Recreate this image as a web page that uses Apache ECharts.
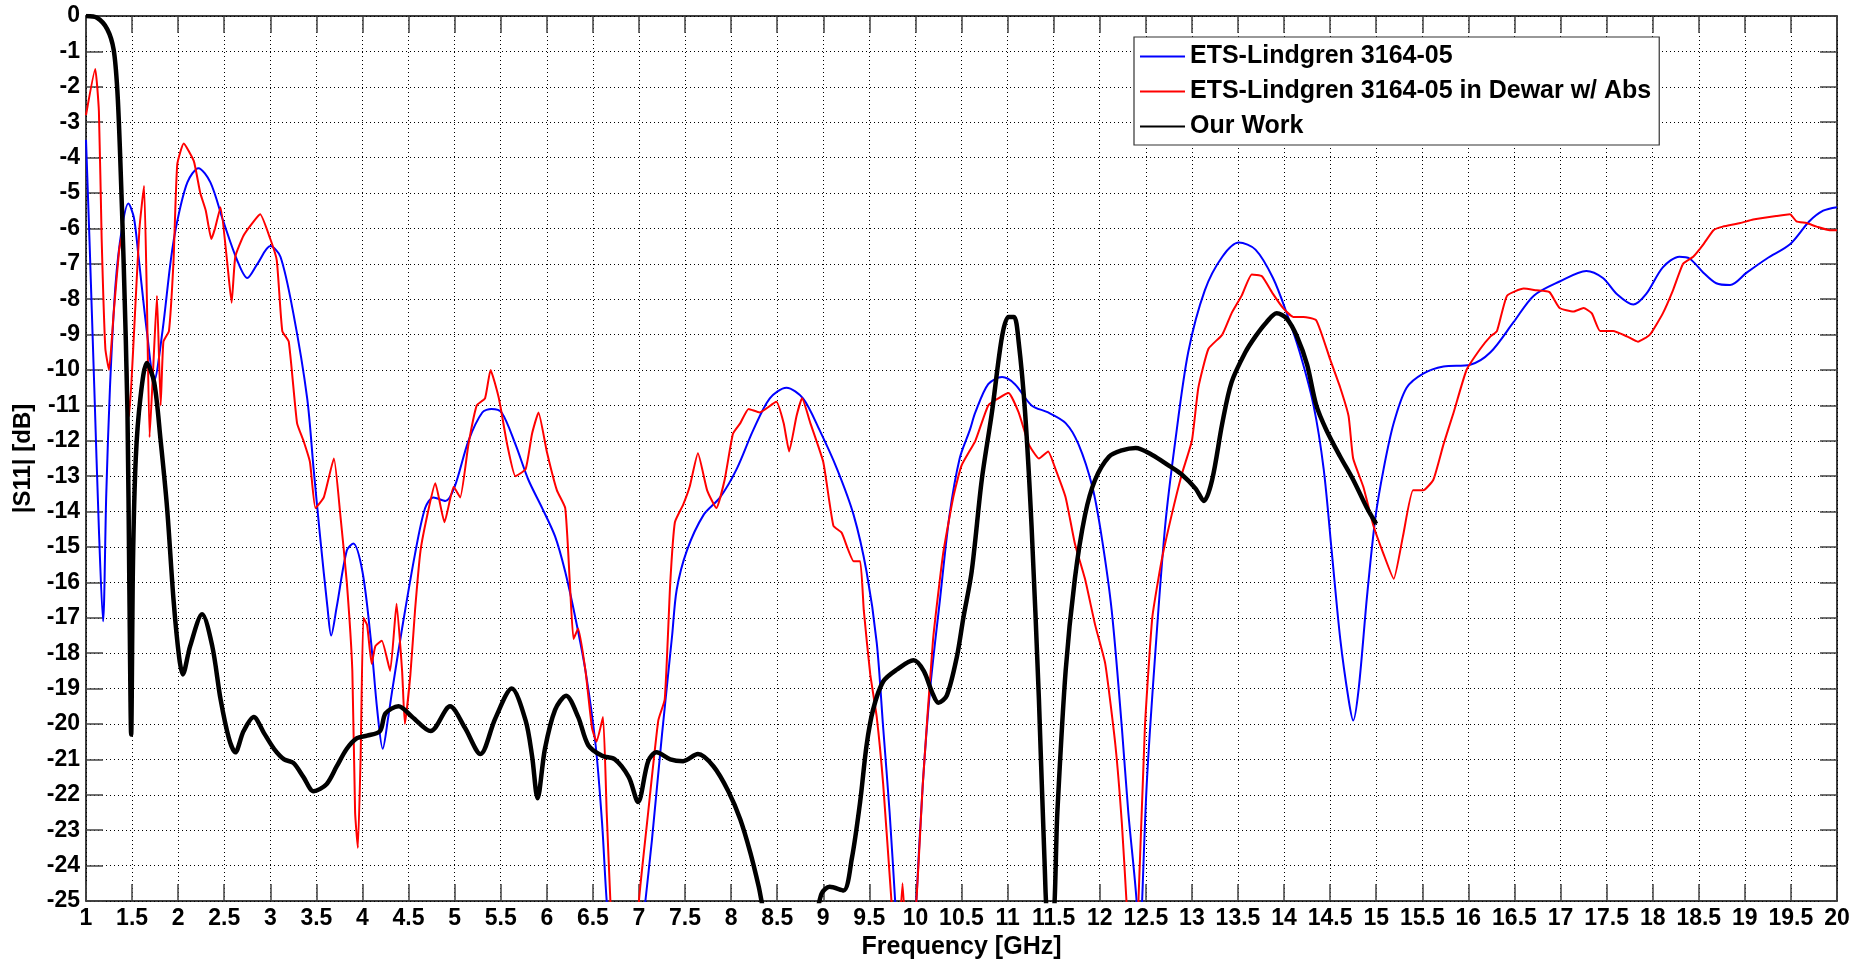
<!DOCTYPE html>
<html>
<head>
<meta charset="utf-8">
<script src="https://cdn.jsdelivr.net/npm/echarts@6/dist/echarts.min.js"></script>
<style>
html,body{margin:0;padding:0;background:#fff;}
#chart{width:1862px;height:965px;}
</style>
</head>
<body>
<div id="chart"></div>
<script>
// ---------- data ----------
const seriesNames = ['ETS-Lindgren 3164-05', 'ETS-Lindgren 3164-05 in Dewar w/ Abs', 'Our Work'];

const blueFreq = [1.0,1.04,1.09,1.14,1.185,1.22,1.26,1.32,1.39,1.46,1.52,1.57,1.66,1.74,1.83,1.92,1.99,2.1,2.22,2.35,2.49,2.64,2.75,2.86,3.0,3.11,3.25,3.4,3.47,3.54,3.62,3.66,3.72,3.83,3.9,4.0,4.09,4.16,4.22,4.28,4.32,4.43,4.57,4.68,4.77,4.9,5.0,5.15,5.3,5.4,5.51,5.66,5.8,5.95,6.09,6.2,6.31,6.42,6.53,6.6,6.65,6.75,6.95,7.07,7.14,7.25,7.36,7.41,7.52,7.7,7.88,8.06,8.24,8.42,8.6,8.78,8.96,9.15,9.33,9.47,9.58,9.65,9.72,9.78,9.85,9.95,10.01,10.08,10.16,10.27,10.37,10.48,10.59,10.65,10.79,10.94,11.08,11.26,11.44,11.63,11.77,11.92,12.02,12.13,12.24,12.31,12.4,12.43,12.46,12.51,12.6,12.71,12.82,12.96,13.14,13.33,13.51,13.69,13.88,14.03,14.17,14.32,14.43,14.52,14.61,14.7,14.75,14.81,14.9,14.99,15.08,15.19,15.33,15.51,15.73,16.02,16.24,16.49,16.71,16.99,17.28,17.46,17.61,17.79,17.93,18.11,18.29,18.4,18.55,18.69,18.84,19.02,19.24,19.49,19.7,19.85,20.0];
const blueDb = [-3.5,-6.5,-10.5,-14.5,-17.1,-13.5,-10.5,-7.6,-6.0,-5.3,-5.7,-6.8,-8.9,-10.3,-8.9,-6.9,-5.8,-4.7,-4.3,-4.7,-5.8,-6.9,-7.4,-7.0,-6.5,-6.8,-8.4,-10.8,-12.8,-14.7,-16.7,-17.5,-16.7,-15.1,-14.9,-15.7,-17.6,-19.6,-20.7,-19.8,-19.1,-17.3,-15.2,-13.9,-13.6,-13.7,-13.3,-12.0,-11.2,-11.1,-11.2,-12.1,-13.1,-13.9,-14.7,-15.7,-17.0,-18.5,-20.6,-22.8,-25.0,-28,-28,-25,-23.3,-20.3,-17.5,-16.2,-15.1,-14.1,-13.6,-12.8,-11.7,-10.8,-10.5,-10.8,-11.7,-12.8,-14.1,-15.7,-17.7,-20.1,-22.5,-25,-28,-28,-25,-21.7,-19.0,-16.4,-14.1,-12.5,-11.7,-11.2,-10.4,-10.2,-10.4,-11.0,-11.2,-11.5,-12.1,-13.3,-14.7,-16.8,-20.1,-22.5,-25,-27,-25,-21.7,-18.1,-14.4,-12.0,-9.5,-7.75,-6.8,-6.4,-6.6,-7.4,-8.4,-9.5,-11.0,-12.8,-15.2,-17.6,-19.3,-19.9,-19.0,-16.4,-14.2,-12.8,-11.5,-10.5,-10.1,-9.9,-9.85,-9.5,-8.65,-7.9,-7.5,-7.2,-7.4,-7.85,-8.15,-7.85,-7.1,-6.8,-6.85,-7.25,-7.55,-7.6,-7.25,-6.85,-6.45,-5.8,-5.5,-5.4];

const redFreq = [1.0,1.1,1.14,1.17,1.21,1.25,1.3,1.36,1.39,1.47,1.52,1.58,1.63,1.66,1.69,1.73,1.77,1.81,1.84,1.9,1.95,1.99,2.06,2.17,2.24,2.3,2.36,2.4,2.46,2.53,2.58,2.62,2.71,2.82,2.89,3.0,3.07,3.13,3.2,3.29,3.36,3.43,3.49,3.58,3.69,3.76,3.83,3.89,3.92,3.95,3.98,4.01,4.05,4.1,4.14,4.21,4.3,4.37,4.43,4.46,4.52,4.57,4.63,4.72,4.79,4.89,4.99,5.06,5.15,5.24,5.33,5.39,5.48,5.57,5.66,5.77,5.84,5.91,6.0,6.11,6.2,6.25,6.29,6.34,6.42,6.49,6.54,6.61,6.65,6.69,6.75,6.95,7.0,7.1,7.21,7.28,7.34,7.39,7.48,7.55,7.64,7.74,7.84,7.93,8.02,8.1,8.19,8.31,8.49,8.57,8.63,8.71,8.77,8.86,9.0,9.11,9.2,9.33,9.4,9.44,9.51,9.58,9.65,9.74,9.8,9.86,9.92,10.01,10.08,10.19,10.3,10.41,10.5,10.65,10.79,10.9,11.01,11.12,11.23,11.34,11.44,11.52,11.63,11.73,11.84,11.95,12.06,12.17,12.24,12.29,12.35,12.42,12.49,12.57,12.67,12.78,12.89,13.0,13.07,13.18,13.33,13.43,13.54,13.65,13.76,13.88,13.99,14.1,14.21,14.35,14.5,14.61,14.7,14.75,14.86,14.97,15.08,15.19,15.29,15.4,15.51,15.62,15.73,15.84,15.98,16.13,16.24,16.31,16.42,16.6,16.74,16.88,16.99,17.14,17.25,17.34,17.43,17.57,17.72,17.84,17.97,18.11,18.22,18.33,18.44,18.55,18.66,18.76,18.95,19.09,19.34,19.49,19.56,19.67,19.78,19.92,20.0];
const redDb = [-2.8,-1.5,-2.7,-6.3,-9.4,-10.0,-8.4,-6.6,-6.2,-11.3,-9.0,-6.0,-4.8,-7.9,-11.9,-9.9,-7.9,-11.0,-9.2,-8.9,-6.9,-4.2,-3.6,-4.1,-5.0,-5.5,-6.3,-6.0,-5.4,-6.9,-8.1,-6.8,-6.2,-5.8,-5.6,-6.3,-6.9,-8.9,-9.2,-11.5,-12.0,-12.6,-13.9,-13.6,-12.5,-14.1,-16.0,-18.5,-22.5,-23.5,-20.9,-17.0,-17.2,-18.3,-17.8,-17.65,-18.5,-16.6,-18.5,-20.0,-18.6,-16.8,-15.1,-13.9,-13.2,-14.3,-13.3,-13.6,-12.1,-11.0,-10.8,-10.0,-10.8,-12.1,-13.0,-12.8,-11.8,-11.2,-12.3,-13.4,-13.9,-16.0,-17.6,-17.3,-18.5,-20.1,-20.5,-19.8,-22.5,-25,-28,-28,-25,-22.5,-19.9,-19.3,-16.0,-14.3,-13.8,-13.3,-12.35,-13.4,-13.9,-13.1,-11.8,-11.5,-11.1,-11.2,-10.9,-11.5,-12.3,-11.3,-10.8,-11.5,-12.6,-14.4,-14.6,-15.4,-15.4,-16.8,-18.6,-19.8,-21.7,-25,-27,-24.5,-27,-25,-21.7,-17.65,-15.2,-13.6,-12.7,-12.0,-11.0,-10.8,-10.65,-11.2,-12.1,-12.5,-12.3,-12.8,-13.6,-14.9,-15.9,-17.2,-18.3,-20.6,-22.8,-25,-28,-25,-20.1,-17.0,-15.4,-14.1,-12.95,-12.0,-10.5,-9.4,-9.0,-8.4,-7.9,-7.3,-7.35,-7.85,-8.25,-8.5,-8.5,-8.6,-9.7,-10.5,-11.3,-12.5,-13.3,-14.4,-15.2,-15.9,-14.7,-13.4,-13.4,-13.1,-12.1,-11.2,-10.0,-9.4,-9.05,-8.9,-7.9,-7.7,-7.75,-7.8,-8.25,-8.35,-8.25,-8.4,-8.9,-8.9,-9.05,-9.2,-9.0,-8.4,-7.75,-7.0,-6.8,-6.45,-6.05,-5.95,-5.85,-5.75,-5.65,-5.6,-5.8,-5.85,-5.95,-6.05,-6.05];

const blackFreq = [1.0,1.12,1.23,1.3,1.34,1.37,1.41,1.45,1.47,1.49,1.51,1.54,1.59,1.66,1.74,1.81,1.88,1.95,2.01,2.05,2.13,2.26,2.37,2.46,2.55,2.62,2.71,2.82,2.93,3.04,3.15,3.25,3.36,3.47,3.61,3.72,3.83,3.94,4.05,4.19,4.25,4.39,4.54,4.74,4.95,5.11,5.28,5.44,5.62,5.77,5.84,5.9,5.98,6.09,6.21,6.34,6.45,6.6,6.74,6.89,6.99,7.1,7.19,7.34,7.48,7.64,7.81,7.97,8.1,8.21,8.3,8.33,8.45,8.8,8.98,9.07,9.22,9.31,9.4,9.47,9.54,9.65,9.8,9.98,10.09,10.18,10.25,10.34,10.45,10.52,10.61,10.72,10.83,10.94,11.01,11.07,11.12,11.19,11.26,11.34,11.4,11.44,11.49,11.54,11.63,11.73,11.84,11.95,12.1,12.24,12.39,12.57,12.75,12.89,13.04,13.13,13.22,13.33,13.43,13.58,13.69,13.81,13.92,14.03,14.14,14.25,14.35,14.46,14.61,14.75,14.9,15.0];
const blackDb = [0,-0.05,-0.37,-0.95,-2.1,-3.9,-7.1,-11.2,-16.0,-20.3,-15.4,-12.5,-10.8,-9.8,-10.35,-12.0,-13.9,-16.5,-18.1,-18.6,-17.8,-16.9,-17.8,-19.3,-20.4,-20.8,-20.2,-19.8,-20.25,-20.7,-21.0,-21.1,-21.5,-21.9,-21.7,-21.2,-20.7,-20.4,-20.33,-20.2,-19.7,-19.5,-19.8,-20.2,-19.5,-20.1,-20.85,-19.85,-19.0,-19.9,-20.9,-22.1,-20.7,-19.6,-19.2,-19.8,-20.6,-20.9,-21.0,-21.5,-22.2,-21.05,-20.8,-21.0,-21.05,-20.85,-21.2,-21.9,-22.7,-23.65,-24.6,-25,-26.5,-26.5,-24.8,-24.6,-24.7,-23.8,-22.2,-20.6,-19.6,-18.8,-18.46,-18.2,-18.5,-19.1,-19.4,-19.2,-18.1,-17.0,-15.7,-13.1,-11.2,-9.05,-8.5,-8.5,-9.2,-11.2,-14.4,-19.3,-23.8,-25.5,-25.5,-22.5,-18.5,-15.9,-14.1,-13.1,-12.45,-12.27,-12.2,-12.4,-12.7,-12.95,-13.35,-13.7,-13.1,-11.5,-10.35,-9.5,-9.05,-8.65,-8.4,-8.55,-9.05,-9.85,-11.0,-11.7,-12.45,-13.1,-13.9,-14.35];

// axis ranges / ticks
const xMin = 1, xMax = 20, xStep = 0.5;
const yMin = -25, yMax = 0, yStep = 1;

// ---------- chart ----------
const zip = (xs, ys) => xs.map((x, i) => [x, ys[i]]);
const FONT = '"Liberation Sans", Arial, Helvetica, sans-serif';

const gridLine = { show: true, lineStyle: { color: '#000', width: 1, type: [1, 3] } };
const tickStyle = { show: true, inside: true, length: 17, lineStyle: { color: '#444', width: 1.5 } };
const axisLineStyle = { show: true, onZero: false, lineStyle: { color: '#000', width: 1.5 } };

const chart = echarts.init(document.getElementById('chart'), null, { renderer: 'canvas' });
chart.setOption({
  animation: false,
  backgroundColor: '#fff',
  grid: { left: 86, right: 25, top: 16, bottom: 58, containLabel: false },
  legend: {
    data: seriesNames,
    orient: 'vertical',
    left: 1134, top: 37,
    backgroundColor: '#fff',
    borderColor: '#333', borderWidth: 1.2, borderRadius: 0,
    padding: [7, 8, 6, 6],
    itemGap: 10,
    itemWidth: 45, itemHeight: 2,
    icon: 'rect',
    textStyle: { fontFamily: FONT, fontSize: 25, fontWeight: 'bold', color: '#000' }
  },
  xAxis: [
    {
      type: 'value', min: xMin, max: xMax, interval: xStep, position: 'bottom',
      name: 'Frequency [GHz]', nameLocation: 'middle', nameGap: 34,
      nameTextStyle: { fontFamily: FONT, fontSize: 25, fontWeight: 'bold', color: '#000' },
      axisLine: axisLineStyle, axisTick: tickStyle, splitLine: gridLine,
      axisLabel: { fontFamily: FONT, fontSize: 23, fontWeight: 'bold', color: '#000', margin: 6,
        formatter: v => String(v) }
    },
    {
      type: 'value', min: xMin, max: xMax, interval: xStep, position: 'top',
      axisLine: axisLineStyle, axisTick: tickStyle, splitLine: { show: false },
      axisLabel: { show: false }
    }
  ],
  yAxis: [
    {
      type: 'value', min: yMin, max: yMax, interval: yStep, position: 'left',
      name: '|S11| [dB]', nameLocation: 'middle', nameGap: 50,
      nameTextStyle: { fontFamily: FONT, fontSize: 24, fontWeight: 'bold', color: '#000' },
      axisLine: axisLineStyle, axisTick: tickStyle, splitLine: gridLine,
      axisLabel: { fontFamily: FONT, fontSize: 23, fontWeight: 'bold', color: '#000', margin: 6 }
    },
    {
      type: 'value', min: yMin, max: yMax, interval: yStep, position: 'right',
      axisLine: axisLineStyle, axisTick: tickStyle, splitLine: { show: false },
      axisLabel: { show: false }
    }
  ],
  series: [
    {
      name: seriesNames[0], type: 'line', data: zip(blueFreq, blueDb),
      showSymbol: false, symbol: 'none', smooth: 0.3, clip: true,
      color: '#0000ff', lineStyle: { color: '#0000ff', width: 2 }
    },
    {
      name: seriesNames[1], type: 'line', data: zip(redFreq, redDb),
      showSymbol: false, symbol: 'none', smooth: 0.15, clip: true,
      color: '#ff0000', lineStyle: { color: '#ff0000', width: 2 }
    },
    {
      name: seriesNames[2], type: 'line', data: zip(blackFreq, blackDb),
      showSymbol: false, symbol: 'none', smooth: 0.3, clip: true,
      color: '#000000', lineStyle: { color: '#000000', width: 4.5 }
    }
  ]
});
</script>
</body>
</html>
